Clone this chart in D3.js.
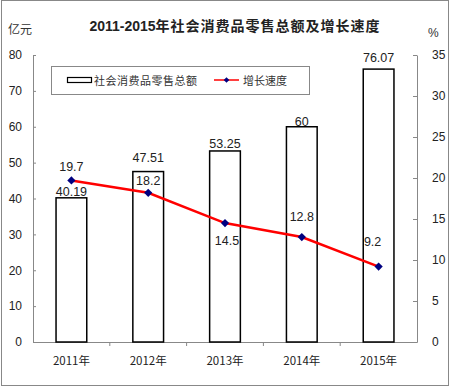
<!DOCTYPE html>
<html>
<head>
<meta charset="utf-8">
<script src="https://cdn.jsdelivr.net/npm/d3@7"></script>
<style>
    body { margin: 0; background: #fff; }
    text { font-family: "Liberation Sans", Arial, "Noto Sans CJK SC", sans-serif; fill: #222; }
    .cjk { font-family: "Noto Sans CJK SC", sans-serif; }
</style>
</head>
<body>
<div id="chart"></div>
<script>
const years = ["2011年", "2012年", "2013年", "2014年", "2015年"]
const sales = [40.19, 47.51, 53.25, 60, 76.07]
const growth = [19.7, 18.2, 14.5, 12.8, 9.2]
const leftTicks = [0, 10, 20, 30, 40, 50, 60, 70, 80]
const rightTicks = [0, 5, 10, 15, 20, 25, 30, 35]

// label nudges (pixels)
const barLabelDy = [-2, -10, -3, -1, -7]
const lineLabelDy = [-9, -8, 22, -16, -21]
const lineLabelDx = [0, 0, 2, 0, -6]

const W = 450, H = 387
const plot = { left: 33, right: 417, top: 55, bottom: 342 }

const svg = d3.select("#chart").append("svg")
    .attr("width", W)
    .attr("height", H)

svg.append("rect")
    .attr("x", 1.5).attr("y", 0.5)
    .attr("width", W - 3).attr("height", H - 2)
    .attr("fill", "none")
    .attr("stroke", "#888")

const x = d3.scaleBand().domain(years).range([plot.left, plot.right])
const yL = d3.scaleLinear().domain([0, 80]).range([plot.bottom, plot.top])
const yR = d3.scaleLinear().domain([0, 35]).range([plot.bottom, plot.top])

// title
const title = svg.append("text")
    .attr("x", 235).attr("y", 31)
    .attr("text-anchor", "middle")
    .style("font-weight", "bold")
    .style("font-size", "14px")
title.append("tspan").text("2011-2015")
title.append("tspan").attr("class", "cjk").style("letter-spacing", "1px").text("年社会消费品零售总额及增长速度")

svg.append("text").attr("class", "cjk").attr("x", 8).attr("y", 34)
    .style("font-size", "12px").style("fill", "#333").text("亿元")
svg.append("text").attr("x", 428).attr("y", 37)
    .style("font-size", "12px").style("fill", "#333").text("%")

// axes
const axisColor = "#888"
const gL = svg.append("g").attr("transform", `translate(${plot.left},0)`)
    .call(d3.axisLeft(yL).tickValues(leftTicks).tickSizeInner(-3).tickSizeOuter(0).tickPadding(11))
const gR = svg.append("g").attr("transform", `translate(${plot.right},0)`)
    .call(d3.axisRight(yR).tickValues(rightTicks).tickSizeInner(-4).tickSizeOuter(0).tickPadding(15))
const gX = svg.append("g").attr("transform", `translate(0,${plot.bottom})`)
    .call(d3.axisBottom(x).tickSize(0).tickPadding(15))

for (const g of [gL, gR, gX]) {
    g.select(".domain").attr("stroke", axisColor)
    g.selectAll(".tick line").attr("stroke", axisColor)
    g.selectAll(".tick text")
        .style("font-family", "\"Liberation Sans\", Arial, sans-serif")
        .style("font-size", "12px")
        .attr("fill", "#222")
}
gX.selectAll(".tick text")
    .style("font-family", "\"Noto Sans CJK SC\", sans-serif")
    .style("font-size", "11.5px")
    .attr("fill", "#333")

// category separators on the x axis
svg.append("g").selectAll("line").data(years.slice(1)).join("line")
    .attr("x1", d => x(d)).attr("x2", d => x(d))
    .attr("y1", plot.bottom).attr("y2", plot.bottom + 4)
    .attr("stroke", axisColor)

// bars
const barW = x.bandwidth() * 0.4
svg.append("g").selectAll("rect").data(sales).join("rect")
    .attr("x", (d, i) => x(years[i]) + x.bandwidth() / 2 - barW / 2)
    .attr("y", d => yL(d))
    .attr("width", barW)
    .attr("height", d => yL(0) - yL(d))
    .attr("fill", "#fff")
    .attr("stroke", "#000")
    .attr("stroke-width", 1.5)

svg.append("g").selectAll("text").data(sales).join("text")
    .attr("x", (d, i) => x(years[i]) + x.bandwidth() / 2)
    .attr("y", (d, i) => yL(d) + barLabelDy[i])
    .attr("text-anchor", "middle")
    .style("font-size", "12.5px")
    .text(d => d)

// growth line
const cx = (d, i) => x(years[i]) + x.bandwidth() / 2
const line = d3.line().x(cx).y(d => yR(d))
svg.append("path")
    .datum(growth)
    .attr("d", line)
    .attr("fill", "none")
    .attr("stroke", "#ff0000")
    .attr("stroke-width", 2.5)

const diamond = d3.symbol().type(d3.symbolSquare).size(34)
svg.append("g").selectAll("path").data(growth).join("path")
    .attr("d", diamond)
    .attr("transform", (d, i) => `translate(${cx(d, i)},${yR(d)}) rotate(45)`)
    .attr("fill", "#000080")

svg.append("g").selectAll("text").data(growth).join("text")
    .attr("x", (d, i) => cx(d, i) + lineLabelDx[i])
    .attr("y", (d, i) => yR(d) + lineLabelDy[i])
    .attr("text-anchor", "middle")
    .style("font-size", "12.5px")
    .text(d => d)

// legend
const lg = svg.append("g")
lg.append("rect")
    .attr("x", 51.5).attr("y", 66.5)
    .attr("width", 258).attr("height", 28)
    .attr("fill", "#fff")
    .attr("stroke", "#888")
lg.append("rect")
    .attr("x", 67.5).attr("y", 77.5)
    .attr("width", 24).attr("height", 5)
    .attr("fill", "#fff")
    .attr("stroke", "#000")
    .attr("stroke-width", 1.2)
lg.append("text").attr("class", "cjk")
    .attr("x", 94).attr("y", 84.5)
    .style("font-size", "11px").style("letter-spacing", "0.5px").style("fill", "#333")
    .text("社会消费品零售总额")
lg.append("line")
    .attr("x1", 214).attr("x2", 239).attr("y1", 80).attr("y2", 80)
    .attr("stroke", "#ff0000").attr("stroke-width", 1.5)
lg.append("path")
    .attr("d", d3.symbol().type(d3.symbolSquare).size(16))
    .attr("transform", "translate(226.5,80) rotate(45)")
    .attr("fill", "#000080")
lg.append("text").attr("class", "cjk")
    .attr("x", 243).attr("y", 84.5)
    .style("font-size", "11px").style("fill", "#333")
    .text("增长速度")
</script>
</body>
</html>
